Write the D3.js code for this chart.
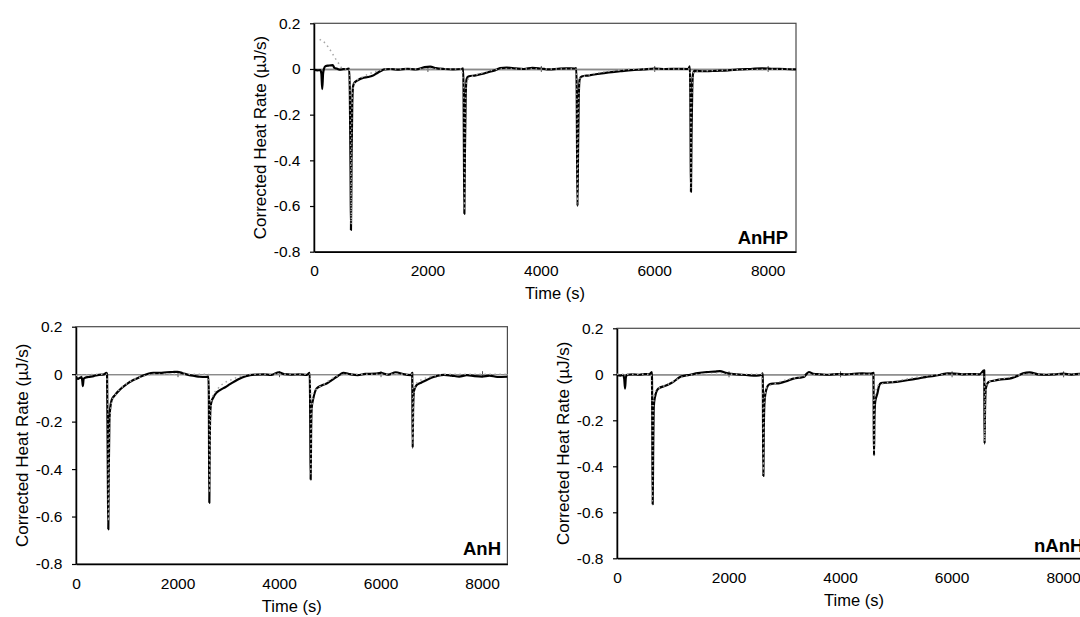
<!DOCTYPE html>
<html>
<head>
<meta charset="utf-8">
<script src="https://cdn.jsdelivr.net/npm/d3@7"></script>
<style>
  body { margin: 0; background: #fff; }
  svg { display: block; }
</style>
</head>
<body>
<div id="chart"></div>
<script>
// Axis ticks (shared by all three panels)
var xTickValues = [0, 2000, 4000, 6000, 8000];
var yTickValues = [0.2, 0, -0.2, -0.4, -0.6, -0.8];
var xTitle = "Time (s)";
var yTitle = "Corrected Heat Rate (µJ/s)";

// AnHP - measured heat rate [time s, µJ/s]
var anhpMeasured = [
  [0, -0.004], [60, -0.006], [110, -0.005], [130, -0.02], [145, -0.088], [160, -0.02], [175, 0.0],
  [200, 0.012], [260, 0.015], [330, 0.017], [360, 0.005], [400, 0.002], [450, -0.003], [520, -0.001],
  [580, 0.0], [620, 0.002], [632, -0.1], [645, -0.45], [652, -0.705], [662, -0.4], [675, -0.15],
  [690, -0.075], [720, -0.058], [780, -0.048], [850, -0.04], [950, -0.035], [1030, -0.03], [1100, -0.02],
  [1170, -0.01], [1240, -0.002], [1350, 0.0], [1500, -0.003], [1650, 0.001], [1800, -0.002], [1950, 0.008],
  [2050, 0.01], [2150, 0.004], [2300, 0.0], [2450, -0.002], [2600, 0.0], [2630, 0.003], [2638, -0.1],
  [2645, -0.4], [2652, -0.634], [2662, -0.35], [2675, -0.12], [2690, -0.045], [2720, -0.033], [2850, -0.028],
  [3000, -0.02], [3100, -0.012], [3200, -0.005], [3280, 0.004], [3400, 0.006], [3550, 0.003], [3700, 0.0],
  [3850, 0.005], [4000, 0.002], [4150, -0.002], [4300, 0.001], [4450, 0.003], [4600, 0.002], [4625, 0.004],
  [4633, -0.1], [4640, -0.4], [4647, -0.6], [4657, -0.35], [4670, -0.11], [4685, -0.045], [4720, -0.033],
  [4850, -0.028], [5000, -0.022], [5200, -0.015], [5400, -0.01], [5600, -0.005], [5800, -0.002], [6000, 0.002],
  [6200, 0.0], [6400, 0.001], [6600, 0.0], [6628, 0.012], [6636, -0.1], [6642, -0.35], [6648, -0.538],
  [6657, -0.3], [6670, -0.09], [6685, -0.02], [6710, -0.008], [6900, -0.01], [7100, -0.008], [7300, -0.006],
  [7500, -0.002], [7700, 0.0], [7900, 0.003], [8100, 0.001], [8300, 0.0], [8500, -0.002]
];
// AnHP - fitted curve
var anhpFit = [
  [100, 0.13], [150, 0.122], [210, 0.11], [260, 0.092], [310, 0.074], [360, 0.052], [420, 0.03], [470, 0.01],
  [520, 0.0], [620, 0.0], [635, -0.1], [648, -0.4], [655, -0.68], [665, -0.3], [680, -0.1], [720, -0.06],
  [900, -0.03], [1100, -0.01], [1300, 0.0], [2600, 0.0], [2640, -0.1], [2650, -0.4], [2655, -0.62],
  [2668, -0.2], [2690, -0.05], [3000, -0.015], [3300, 0.0], [4620, 0.0], [4637, -0.15], [4645, -0.59],
  [4660, -0.2], [4690, -0.04], [5200, -0.01], [5800, 0.0], [6630, 0.0], [6640, -0.2], [6647, -0.52],
  [6660, -0.15], [6700, -0.01], [8500, 0.0]
];

// AnH - measured heat rate
var anhMeasured = [
  [0, -0.011], [40, -0.02], [80, -0.015], [110, -0.012], [125, -0.03], [135, -0.05], [150, -0.02], [180, -0.015],
  [250, -0.012], [350, -0.008], [450, -0.003], [550, -0.001], [600, 0.006], [612, 0.0], [620, -0.2], [630, -0.5],
  [637, -0.654], [646, -0.4], [658, -0.2], [670, -0.152], [703, -0.109], [768, -0.088], [867, -0.065], [998, -0.042],
  [1130, -0.025], [1230, -0.015], [1327, -0.006], [1420, 0.002], [1524, 0.006], [1650, 0.005], [1787, 0.008],
  [1900, 0.009], [2000, 0.01], [2100, 0.004], [2232, -0.004], [2350, -0.008], [2430, -0.011], [2560, -0.012],
  [2610, -0.01], [2618, -0.1], [2622, -0.35], [2627, -0.542], [2635, -0.3], [2648, -0.15], [2665, -0.12],
  [2706, -0.098], [2760, -0.08], [2837, -0.067], [2940, -0.055], [3034, -0.042], [3130, -0.03], [3232, -0.018],
  [3330, -0.01], [3429, -0.004], [3550, -0.002], [3700, -0.001], [3850, -0.003], [4000, 0.008], [4100, 0.0],
  [4250, -0.002], [4400, -0.001], [4550, -0.003], [4605, 0.006], [4612, -0.1], [4618, -0.3], [4624, -0.444],
  [4632, -0.25], [4645, -0.14], [4676, -0.102], [4742, -0.06], [4840, -0.048], [4939, -0.039], [5040, -0.025],
  [5137, -0.011], [5200, -0.002], [5270, 0.006], [5400, 0.0], [5550, -0.004], [5700, 0.001], [5900, 0.002],
  [6000, 0.005], [6150, -0.002], [6300, 0.008], [6450, 0.0], [6600, -0.004], [6625, 0.005], [6628, -0.1],
  [6634, -0.31], [6642, -0.15], [6660, -0.07], [6713, -0.046], [6800, -0.036], [6910, -0.025], [7000, -0.015],
  [7107, -0.008], [7250, -0.003], [7400, -0.006], [7550, -0.01], [7700, -0.004], [7850, -0.008], [8000, -0.01],
  [8150, -0.006], [8300, -0.012], [8500, -0.011]
];
// AnH - fitted curve
var anhFit = [
  [0, -0.005], [600, 0.0], [625, -0.1], [640, -0.62], [655, -0.3], [670, -0.2], [700, -0.12], [800, -0.08],
  [1000, -0.04], [1300, -0.01], [1600, 0.0], [2615, 0.0], [2625, -0.15], [2632, -0.5], [2645, -0.22],
  [2680, -0.1], [2800, -0.06], [3100, -0.02], [3500, 0.0], [4615, 0.0], [4622, -0.2], [4628, -0.42],
  [4640, -0.2], [4680, -0.08], [4900, -0.04], [5200, -0.005], [5500, 0.0], [6628, 0.0], [6632, -0.1],
  [6637, -0.29], [6650, -0.1], [6700, -0.04], [7000, -0.01], [7400, 0.0], [8500, 0.0]
];

// nAnHP - measured heat rate
var nanhpMeasured = [
  [0, -0.004], [60, -0.006], [110, -0.003], [130, -0.02], [144, -0.062], [158, -0.015], [180, -0.002], [280, 0.0],
  [400, -0.002], [500, 0.001], [580, 0.0], [625, 0.01], [630, -0.1], [634, -0.35], [640, -0.565], [648, -0.35],
  [660, -0.14], [681, -0.099], [741, -0.062], [891, -0.048], [1010, -0.033], [1130, -0.012], [1220, -0.006],
  [1309, -0.002], [1450, 0.005], [1609, 0.01], [1750, 0.012], [1847, 0.014], [1950, 0.006], [2050, 0.002],
  [2200, -0.001], [2350, -0.004], [2500, -0.006], [2600, -0.002], [2612, 0.004], [2617, -0.1], [2620, -0.3],
  [2625, -0.442], [2632, -0.25], [2645, -0.12], [2673, -0.07], [2735, -0.043], [2820, -0.04], [2918, -0.038],
  [3040, -0.03], [3164, -0.019], [3260, -0.015], [3349, -0.012], [3400, 0.002], [3441, 0.01], [3520, 0.002],
  [3650, 0.0], [3800, -0.002], [3950, 0.001], [4100, 0.0], [4250, 0.002], [4400, 0.004], [4550, 0.003],
  [4598, 0.006], [4602, -0.1], [4605, -0.25], [4609, -0.352], [4616, -0.2], [4630, -0.12], [4669, -0.084],
  [4700, -0.05], [4732, -0.038], [4850, -0.036], [5008, -0.033], [5200, -0.026], [5376, -0.019], [5530, -0.012],
  [5684, -0.007], [5800, -0.002], [5930, 0.004], [6050, 0.003], [6200, 0.0], [6350, 0.001], [6500, 0.0],
  [6585, 0.017], [6588, -0.1], [6592, -0.301], [6600, -0.15], [6615, -0.06], [6666, -0.033], [6750, -0.028],
  [6850, -0.023], [7035, -0.019], [7150, -0.01], [7281, 0.004], [7400, 0.008], [7550, 0.0], [7700, -0.002],
  [7850, 0.0], [8000, 0.003], [8150, -0.001], [8300, 0.002], [8500, 0.0]
];
// nAnHP - fitted curve
var nanhpFit = [
  [0, 0.0], [615, 0.0], [628, -0.1], [636, -0.55], [645, -0.3], [660, -0.1], [700, -0.07], [900, -0.045],
  [1200, -0.01], [1500, 0.0], [2605, 0.0], [2618, -0.15], [2624, -0.43], [2635, -0.15], [2680, -0.06],
  [2900, -0.035], [3300, -0.01], [3600, 0.0], [4595, 0.0], [4603, -0.1], [4608, -0.34], [4620, -0.12],
  [4670, -0.05], [5000, -0.03], [5600, -0.005], [6000, 0.0], [6585, 0.0], [6590, -0.1], [6595, -0.29],
  [6605, -0.1], [6650, -0.035], [7000, -0.015], [7300, 0.0], [8500, 0.0]
];

var fontFamily = "'Liberation Sans', Arial, sans-serif";

var svg = d3.select("#chart").append("svg")
    .attr("width", 1080)
    .attr("height", 617);

// panel boxes (pixels)
var panels = [
  { id: "anhp", name: "AnHP", measured: anhpMeasured, fit: anhpFit,
    left: 314, right: 796, top: 23.3, bottom: 251.7, labelX: 788, labelY: 243.5, anchor: "end" },
  { id: "anh", name: "AnH", measured: anhMeasured, fit: anhFit,
    left: 76, right: 507.4, top: 326.7, bottom: 564, labelX: 501, labelY: 555, anchor: "end" },
  { id: "nanhp", name: "nAnHP", measured: nanhpMeasured, fit: nanhpFit,
    left: 617, right: 1091, top: 328.3, bottom: 558.3, labelX: 1034, labelY: 551.7, anchor: "start" }
];

panels.forEach(drawPanel);

function drawPanel(p) {
    var x = d3.scaleLinear().domain([0, 8500]).range([p.left, p.right]);
    var y = d3.scaleLinear().domain([-0.8, 0.2]).range([p.bottom, p.top]);

    var g = svg.append("g").attr("class", "panel-" + p.id);

    g.append("clipPath").attr("id", "clip-" + p.id)
        .append("rect")
        .attr("x", p.left).attr("y", p.top)
        .attr("width", p.right - p.left).attr("height", p.bottom - p.top);

    // plot frame
    g.append("rect")
        .attr("x", p.left).attr("y", p.top)
        .attr("width", p.right - p.left).attr("height", p.bottom - p.top)
        .attr("fill", "none")
        .attr("stroke", "#4a4a4a")
        .attr("stroke-width", 1.2);

    // horizontal axis at zero, ticks crossing it
    var zeroDown = g.append("g")
        .attr("transform", "translate(0," + y(0) + ")")
        .call(d3.axisBottom(x).tickValues(xTickValues).tickSizeInner(3).tickSizeOuter(0).tickFormat(""));
    var zeroUp = g.append("g")
        .attr("transform", "translate(0," + y(0) + ")")
        .call(d3.axisTop(x).tickValues(xTickValues).tickSizeInner(3).tickSizeOuter(0).tickFormat(""));
    [zeroDown, zeroUp].forEach(function(a) {
        a.select(".domain").attr("stroke", "#8a8a8a").attr("stroke-width", 1.3);
        a.selectAll(".tick line").attr("stroke", "#555").attr("stroke-width", 1);
    });

    // bottom axis: labels only, black base line
    var xAxis = g.append("g")
        .attr("transform", "translate(0," + p.bottom + ")")
        .call(d3.axisBottom(x).tickValues(xTickValues).tickSize(0).tickPadding(13.5)
            .tickFormat(function(d) { return String(d); }));
    xAxis.select(".domain").attr("stroke", "#000").attr("stroke-width", 1.4);
    xAxis.selectAll("text")
        .attr("font-family", fontFamily).attr("font-size", "15.5px").attr("fill", "#000");

    // left axis
    var yAxis = g.append("g")
        .attr("transform", "translate(" + p.left + ",0)")
        .call(d3.axisLeft(y).tickValues(yTickValues).tickSizeInner(4).tickSizeOuter(0).tickPadding(9.5)
            .tickFormat(function(d) { return String(+d.toFixed(1)); }));
    yAxis.select(".domain").attr("stroke", "#000").attr("stroke-width", 1.5);
    yAxis.selectAll(".tick line").attr("stroke", "#000").attr("stroke-width", 1.2);
    yAxis.selectAll("text")
        .attr("font-family", fontFamily).attr("font-size", "15.5px").attr("fill", "#000");

    // titles
    g.append("text")
        .attr("x", (p.left + Math.min(p.right, 1091)) / 2)
        .attr("y", p.bottom + 42)
        .attr("dy", "0.35em")
        .attr("text-anchor", "middle")
        .attr("font-family", fontFamily).attr("font-size", "16.5px")
        .text(xTitle);

    g.append("text")
        .attr("transform", "translate(" + (p.left - 54) + "," + ((p.top + p.bottom) / 2) + ") rotate(-90)")
        .attr("dy", "0.35em")
        .attr("text-anchor", "middle")
        .attr("font-family", fontFamily).attr("font-size", "17px")
        .text(yTitle);

    // data lines
    var line = d3.line()
        .x(function(d) { return x(d[0]); })
        .y(function(d) { return y(d[1]); })
        .curve(d3.curveMonotoneX);

    var plot = g.append("g").attr("clip-path", "url(#clip-" + p.id + ")");

    plot.append("path")
        .datum(p.measured)
        .attr("d", line)
        .attr("fill", "none")
        .attr("stroke", "#000")
        .attr("stroke-width", 2.2)
        .attr("stroke-linejoin", "round");

    plot.append("path")
        .datum(p.fit)
        .attr("d", line)
        .attr("fill", "none")
        .attr("stroke", "#a6a6a6")
        .attr("stroke-width", 1.5)
        .attr("stroke-dasharray", "1.5,3.5");

    // panel name
    g.append("text")
        .attr("x", p.labelX)
        .attr("y", p.labelY)
        .attr("text-anchor", p.anchor)
        .attr("font-family", fontFamily)
        .attr("font-size", "18.5px")
        .attr("font-weight", "bold")
        .text(p.name);
}
</script>
</body>
</html>
